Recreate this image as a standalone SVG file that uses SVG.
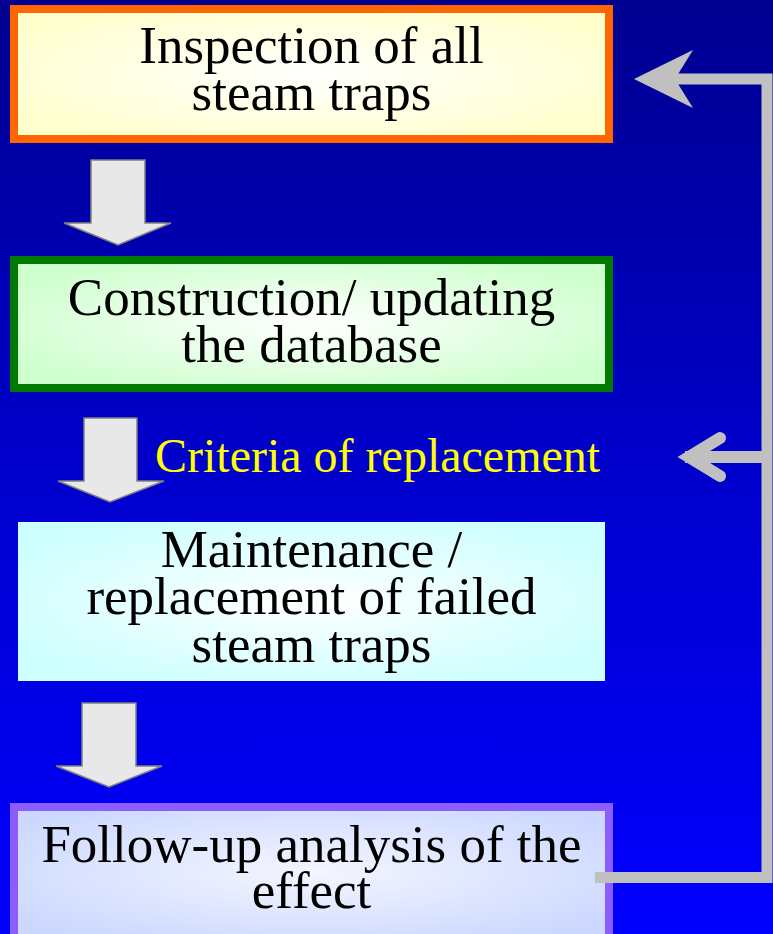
<svg xmlns="http://www.w3.org/2000/svg" width="773" height="934" viewBox="0 0 773 934">
<defs>
<linearGradient id="bg" x1="0" y1="0" x2="0" y2="1">
<stop offset="0" stop-color="#000090"/>
<stop offset="0.5" stop-color="#0000cc"/>
<stop offset="1" stop-color="#0000ff"/>
</linearGradient>
<radialGradient id="g1" cx="0.5" cy="0.5" r="0.6"><stop offset="0" stop-color="#ffffff"/><stop offset="1" stop-color="#ffffcc"/></radialGradient>
<radialGradient id="g2" cx="0.5" cy="0.5" r="0.6"><stop offset="0" stop-color="#ffffff"/><stop offset="1" stop-color="#ccffcc"/></radialGradient>
<radialGradient id="g3" cx="0.5" cy="0.5" r="0.6"><stop offset="0" stop-color="#ffffff"/><stop offset="1" stop-color="#ccffff"/></radialGradient>
<radialGradient id="g4" cx="0.5" cy="0.5" r="0.6"><stop offset="0" stop-color="#f4f6ff"/><stop offset="1" stop-color="#ccd8ff"/></radialGradient>
</defs>
<style>
.t{font-family:"Liberation Serif","Times New Roman",serif;font-size:53px;fill:#000;text-anchor:middle}
.y{font-family:"Liberation Serif","Times New Roman",serif;font-size:48px;fill:#ffff00}
.da{fill:#e8e8e8;stroke:#808080;stroke-width:1.5}
.fb{fill:none;stroke:#c0c0c0;stroke-width:11}
</style>
<rect x="0" y="0" width="773" height="934" fill="url(#bg)"/>
<g id="n1">
<rect x="14" y="9" width="595" height="130" fill="url(#g1)" stroke="#ff6600" stroke-width="8"/>
<text class="t" x="311.5" y="63">Inspection of all</text>
<text class="t" x="311.5" y="110">steam traps</text>
</g>
<g id="n2">
<rect x="14" y="260" width="595" height="128" fill="url(#g2)" stroke="#007a00" stroke-width="8"/>
<text class="t" x="311.5" y="315">Construction/ updating</text>
<text class="t" x="311.5" y="362">the database</text>
</g>
<g id="n3">
<rect x="18" y="522" width="587" height="159" fill="url(#g3)"/>
<text class="t" x="311.5" y="567">Maintenance /</text>
<text class="t" x="311.5" y="614">replacement of failed</text>
<text class="t" x="311.5" y="662">steam traps</text>
</g>
<g id="n4">
<rect x="14" y="807" width="595" height="131" fill="url(#g4)" stroke="#8c5cff" stroke-width="8"/>
<text class="t" x="311.5" y="862">Follow-up analysis of the</text>
<text class="t" x="311.5" y="908">effect</text>
</g>
<g id="label">
<text class="y" x="155" y="472">Criteria of replacement</text>
</g>
<g id="connectors">
<polygon class="da" points="91,160 145,160 145,223 171,223 118,245 64,223 91,223"/>
<polygon class="da" points="84,418 137,418 137,481 164,481 110,502 58,481 84,481"/>
<polygon class="da" points="82,703 136,703 136,766 162,766 109,787 56,766 82,766"/>
<polyline class="fb" points="595,877.5 767,877.5 767,79 675,79"/>
<polygon fill="#c0c0c0" points="634,79 693,50 675,79 693,108"/>
<line x1="685" y1="457" x2="767" y2="457" stroke="#c0c0c0" stroke-width="12"/>
<polyline points="720,438 689,457 720,476" fill="none" stroke="#c0c0c0" stroke-width="12" stroke-linecap="round" stroke-linejoin="miter" stroke-miterlimit="10"/>
</g>
</svg>
